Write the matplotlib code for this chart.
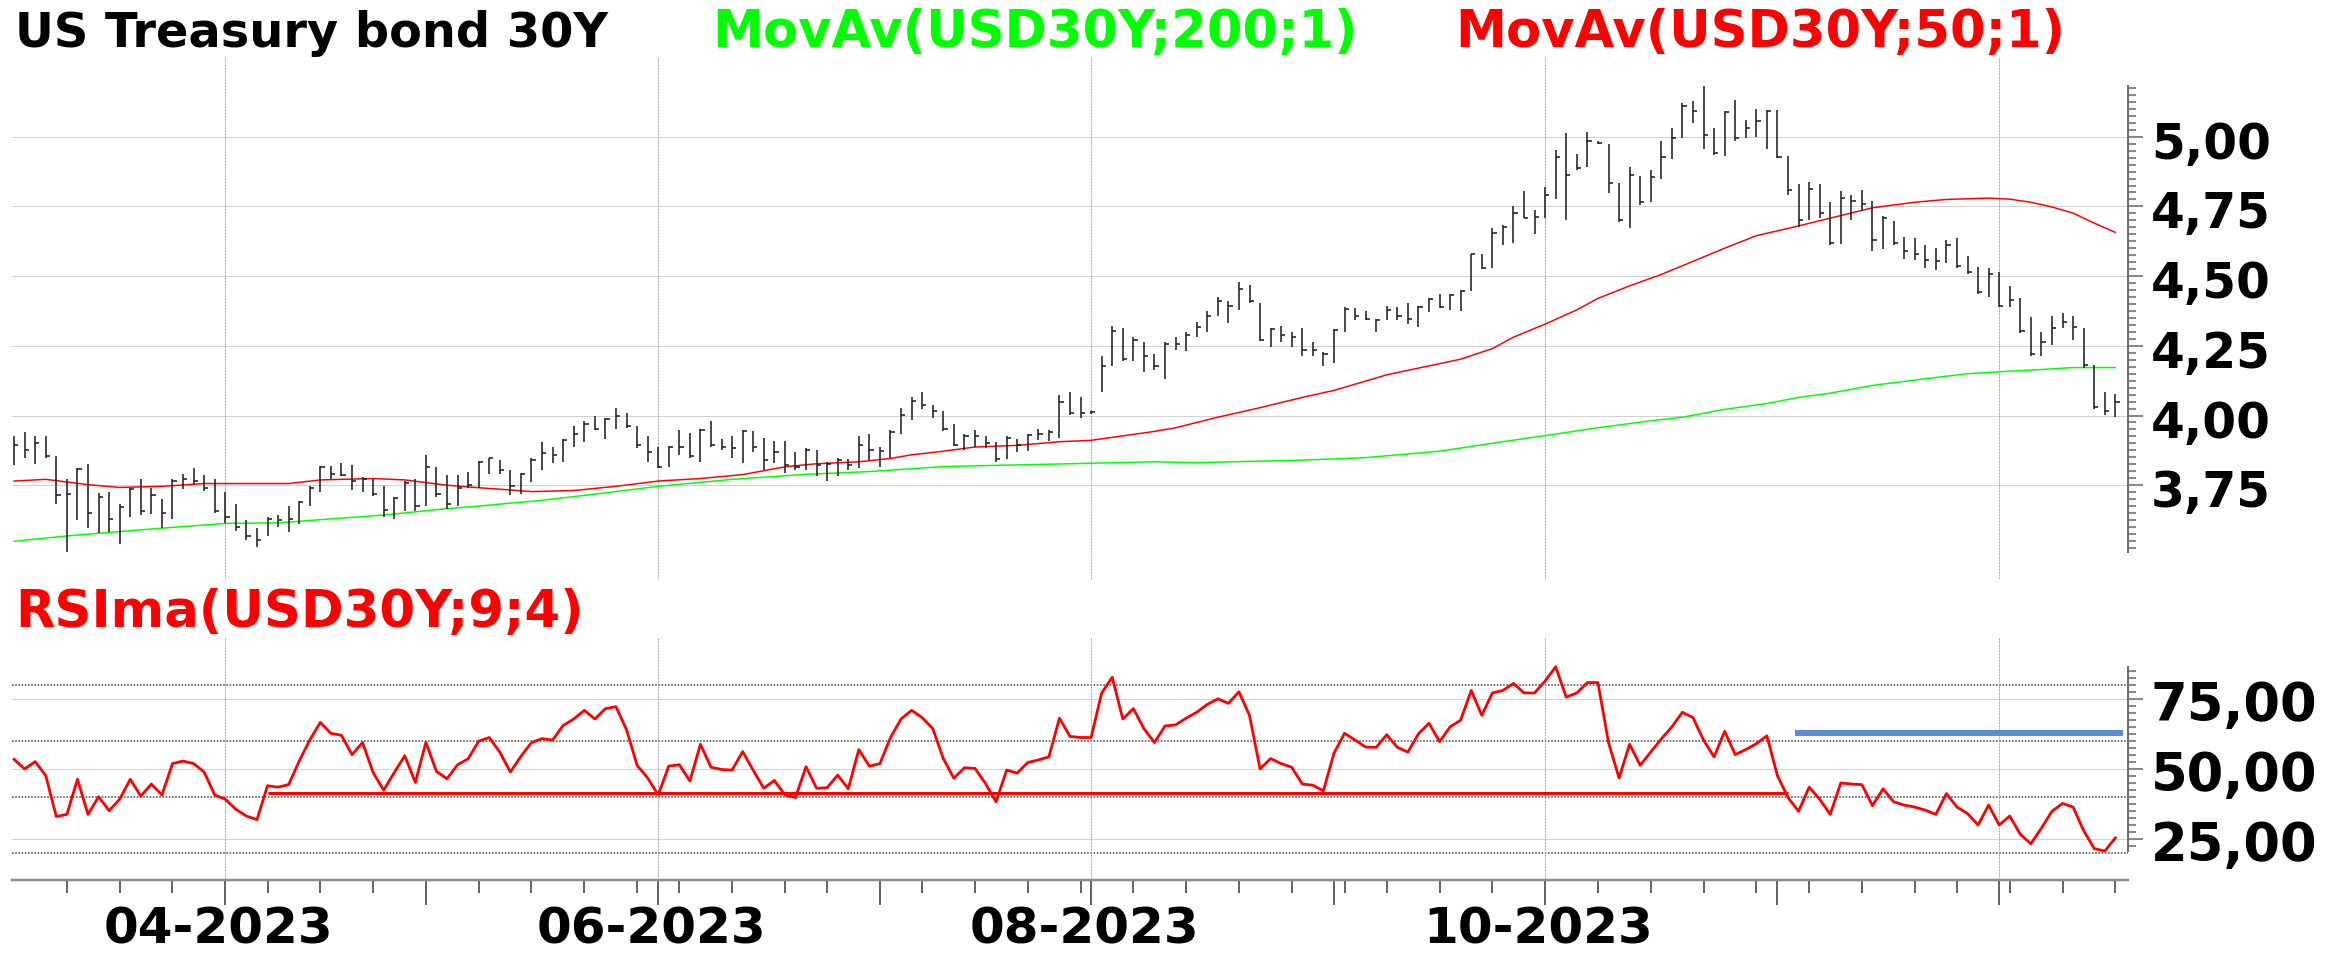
import numpy as np
import pandas as pd
import matplotlib
matplotlib.use("Agg")
import matplotlib.pyplot as plt
from matplotlib.ticker import FixedLocator, NullFormatter

plt.rcParams['font.family'] = ['DejaVu Sans']
plt.rcParams['font.weight'] = 'bold'

# trading days shown (weekdays, US bond market holidays removed)
holidays = ["2023-04-07", "2023-05-29", "2023-06-19", "2023-07-04",
            "2023-09-04", "2023-11-23"]
dates = pd.bdate_range("2023-03-06", "2023-12-18")
dates = dates[~dates.isin(pd.to_datetime(holidays))]

high = [3.928, 3.940, 3.925, 3.925, 3.855, 3.774, 3.812, 3.827, 3.722, 3.727,
        3.684, 3.741, 3.774, 3.741, 3.699, 3.774, 3.789, 3.812, 3.788, 3.771,
        3.727, 3.684, 3.624, 3.596, 3.637, 3.643, 3.675, 3.694, 3.746, 3.819,
        3.819, 3.831, 3.821, 3.778, 3.774, 3.746, 3.709, 3.765, 3.771, 3.857,
        3.816, 3.788, 3.788, 3.799, 3.838, 3.849, 3.840, 3.803, 3.793, 3.846,
        3.906, 3.887, 3.915, 3.962, 3.981, 4.000, 3.990, 4.028, 4.009, 3.962,
        3.928, 3.887, 3.891, 3.947, 3.938, 3.953, 3.981, 3.915, 3.928, 3.947,
        3.943, 3.919, 3.909, 3.909, 3.868, 3.883, 3.877, 3.834, 3.849, 3.844,
        3.928, 3.934, 3.887, 3.947, 4.028, 4.065, 4.084, 4.037, 4.018, 3.971,
        3.934, 3.947, 3.928, 3.906, 3.925, 3.915, 3.934, 3.953, 3.947, 4.075,
        4.084, 4.065, 4.015, 4.215, 4.322, 4.315, 4.281, 4.262, 4.221, 4.262,
        4.281, 4.300, 4.337, 4.375, 4.425, 4.409, 4.479, 4.469, 4.403, 4.313,
        4.322, 4.300, 4.313, 4.262, 4.229, 4.309, 4.388, 4.385, 4.375, 4.347,
        4.394, 4.388, 4.403, 4.394, 4.422, 4.435, 4.437, 4.450, 4.581, 4.581,
        4.671, 4.685, 4.750, 4.807, 4.737, 4.820, 4.951, 5.013, 4.938, 5.017,
        4.985, 4.975, 4.835, 4.891, 4.859, 4.882, 4.985, 5.032, 5.120, 5.129,
        5.182, 5.032, 5.094, 5.131, 5.060, 5.101, 5.097, 5.097, 4.932, 4.831,
        4.838, 4.831, 4.765, 4.807, 4.792, 4.810, 4.769, 4.716, 4.698, 4.641,
        4.638, 4.610, 4.600, 4.628, 4.638, 4.572, 4.534, 4.529, 4.516, 4.465,
        4.422, 4.352, 4.300, 4.356, 4.366, 4.356, 4.315, 4.181, 4.084, 4.078]
low = [3.821, 3.849, 3.825, 3.849, 3.681, 3.512, 3.624, 3.596, 3.577, 3.581,
       3.540, 3.637, 3.643, 3.647, 3.596, 3.630, 3.737, 3.756, 3.731, 3.652,
       3.615, 3.587, 3.553, 3.527, 3.568, 3.600, 3.583, 3.611, 3.677, 3.727,
       3.774, 3.784, 3.733, 3.724, 3.712, 3.637, 3.628, 3.658, 3.658, 3.677,
       3.709, 3.666, 3.677, 3.741, 3.741, 3.789, 3.789, 3.714, 3.718, 3.763,
       3.803, 3.831, 3.834, 3.887, 3.906, 3.947, 3.915, 3.953, 3.956, 3.883,
       3.834, 3.812, 3.816, 3.859, 3.849, 3.834, 3.887, 3.877, 3.849, 3.831,
       3.868, 3.803, 3.831, 3.793, 3.803, 3.806, 3.784, 3.765, 3.784, 3.803,
       3.812, 3.840, 3.816, 3.849, 3.934, 3.985, 4.022, 3.990, 3.943, 3.891,
       3.877, 3.887, 3.883, 3.834, 3.844, 3.868, 3.872, 3.911, 3.909, 3.921,
       4.003, 3.990, 4.005, 4.084, 4.178, 4.196, 4.196, 4.155, 4.163, 4.131,
       4.234, 4.232, 4.281, 4.300, 4.356, 4.333, 4.379, 4.403, 4.268, 4.244,
       4.262, 4.247, 4.212, 4.215, 4.178, 4.187, 4.300, 4.341, 4.343, 4.300,
       4.341, 4.343, 4.328, 4.319, 4.371, 4.384, 4.379, 4.375, 4.446, 4.525,
       4.529, 4.610, 4.619, 4.709, 4.651, 4.707, 4.778, 4.703, 4.882, 4.891,
       4.975, 4.797, 4.695, 4.672, 4.754, 4.765, 4.850, 4.919, 4.994, 5.051,
       4.957, 4.934, 4.932, 4.985, 4.994, 4.998, 4.957, 4.925, 4.792, 4.675,
       4.703, 4.709, 4.613, 4.615, 4.703, 4.732, 4.591, 4.596, 4.610, 4.563,
       4.559, 4.529, 4.521, 4.548, 4.529, 4.506, 4.437, 4.426, 4.388, 4.388,
       4.296, 4.215, 4.215, 4.253, 4.315, 4.272, 4.172, 4.022, 4.003, 3.994]
close = [3.896, 3.877, 3.900, 3.855, 3.714, 3.718, 3.808, 3.652, 3.709, 3.628,
         3.671, 3.737, 3.658, 3.714, 3.649, 3.765, 3.774, 3.765, 3.741, 3.658,
         3.637, 3.600, 3.568, 3.553, 3.628, 3.624, 3.630, 3.690, 3.741, 3.816,
         3.789, 3.788, 3.765, 3.774, 3.718, 3.662, 3.703, 3.759, 3.677, 3.816,
         3.718, 3.684, 3.741, 3.752, 3.834, 3.846, 3.803, 3.746, 3.789, 3.840,
         3.864, 3.859, 3.911, 3.934, 3.968, 3.953, 3.987, 4.000, 3.962, 3.896,
         3.868, 3.817, 3.887, 3.887, 3.855, 3.947, 3.893, 3.887, 3.883, 3.943,
         3.887, 3.840, 3.868, 3.821, 3.816, 3.877, 3.821, 3.827, 3.840, 3.821,
         3.896, 3.877, 3.872, 3.940, 4.003, 4.052, 4.037, 4.015, 3.953, 3.896,
         3.928, 3.925, 3.902, 3.844, 3.921, 3.896, 3.930, 3.934, 3.940, 4.047,
         4.009, 4.009, 4.011, 4.178, 4.303, 4.202, 4.272, 4.215, 4.178, 4.258,
         4.258, 4.290, 4.318, 4.356, 4.409, 4.394, 4.454, 4.409, 4.272, 4.309,
         4.290, 4.281, 4.234, 4.234, 4.221, 4.305, 4.381, 4.356, 4.347, 4.343,
         4.379, 4.356, 4.347, 4.390, 4.418, 4.390, 4.431, 4.446, 4.578, 4.529,
         4.656, 4.675, 4.728, 4.709, 4.713, 4.792, 4.929, 4.863, 4.887, 4.985,
         4.979, 4.835, 4.700, 4.863, 4.765, 4.854, 4.929, 4.994, 5.111, 5.092,
         5.008, 4.942, 5.088, 4.994, 5.032, 5.056, 5.094, 4.929, 4.810, 4.703,
         4.812, 4.728, 4.619, 4.779, 4.769, 4.760, 4.628, 4.707, 4.619, 4.591,
         4.578, 4.559, 4.553, 4.610, 4.538, 4.516, 4.444, 4.506, 4.394, 4.416,
         4.303, 4.221, 4.262, 4.313, 4.337, 4.318, 4.181, 4.031, 4.015, 4.047]

rsi = [53.5, 50.1, 52.7, 47.7, 33.1, 33.9, 46.4, 33.9, 40.2, 35.2,
       39.3, 46.4, 40.4, 44.7, 40.8, 52.0, 52.9, 52.0, 49.0, 40.8,
       39.3, 35.7, 33.3, 32.0, 44.1, 43.6, 44.5, 52.9, 60.4, 66.7,
       62.8, 62.1, 55.2, 59.5, 48.8, 42.5, 48.8, 54.8, 45.3, 59.6,
       49.2, 46.6, 51.6, 53.7, 60.0, 61.3, 56.1, 49.0, 54.6, 59.5,
       60.9, 60.4, 65.6, 67.9, 71.0, 67.9, 71.6, 72.3, 64.1, 51.4,
       46.9, 40.8, 51.1, 51.6, 45.8, 58.9, 50.7, 49.9, 49.7, 56.3,
       49.6, 43.2, 46.0, 40.8, 39.9, 50.9, 43.2, 43.4, 47.9, 43.0,
       57.0, 51.1, 52.0, 61.3, 67.9, 71.0, 68.4, 64.5, 53.8, 46.8,
       50.5, 50.3, 44.9, 38.4, 49.7, 48.6, 52.4, 53.3, 54.4, 68.2,
       61.7, 61.3, 61.3, 77.2, 82.8, 67.9, 71.6, 64.5, 59.5, 65.4,
       65.8, 68.2, 70.3, 73.1, 75.1, 73.5, 77.6, 69.2, 50.1, 53.8,
       52.0, 50.7, 44.7, 44.3, 42.3, 55.7, 62.8, 60.4, 57.9, 57.8,
       62.3, 57.8, 56.1, 62.6, 66.4, 59.8, 65.1, 67.5, 78.1, 69.2,
       77.2, 78.1, 80.6, 77.2, 77.2, 81.5, 86.5, 75.7, 77.2, 80.9,
       80.9, 59.5, 46.9, 58.9, 51.4, 56.1, 60.8, 65.1, 70.3, 68.4,
       60.4, 54.4, 63.5, 55.2, 57.0, 59.1, 61.9, 47.7, 39.9, 35.0,
       43.6, 39.3, 33.9, 45.1, 44.7, 44.5, 37.0, 43.0, 38.4, 37.2,
       36.5, 35.4, 33.9, 41.3, 36.5, 34.2, 30.1, 37.2, 30.1, 33.3,
       26.8, 23.4, 29.0, 35.0, 37.8, 36.5, 28.1, 21.7, 20.8, 25.5]

# moving averages, read at a subset of bars (bar number, value)
ma50_bar = [0, 3, 7, 10, 14, 18, 26, 29, 34, 37, 41, 44, 47, 49, 53, 57, 61,
            65, 69, 73, 76, 80, 83, 85, 88, 91, 95, 99, 102, 108, 110, 114,
            118, 122, 125, 130, 137, 140, 142, 145, 148, 150, 153, 156, 159,
            162, 165, 169, 172, 176, 180, 183, 187, 189, 191, 193, 195, 197, 199]
ma50 = [3.765, 3.771, 3.752, 3.742, 3.746, 3.756, 3.756, 3.769, 3.774, 3.769,
        3.750, 3.741, 3.733, 3.727, 3.731, 3.746, 3.765, 3.774, 3.788, 3.816,
        3.827, 3.834, 3.846, 3.859, 3.872, 3.887, 3.893, 3.906, 3.911, 3.943,
        3.956, 3.994, 4.028, 4.065, 4.090, 4.146, 4.202, 4.240, 4.281, 4.328,
        4.379, 4.420, 4.465, 4.506, 4.553, 4.600, 4.645, 4.680, 4.708, 4.745,
        4.765, 4.775, 4.780, 4.776, 4.765, 4.748, 4.726, 4.690, 4.657]
ma200_bar = [0, 5, 12, 20, 25, 31, 35, 41, 44, 50, 55, 61, 68, 75, 81, 88, 100,
             108, 112, 122, 128, 135, 141, 145, 150, 155, 158, 162, 166, 169,
             172, 176, 180, 185, 188, 192, 195, 199]
ma200 = [3.549, 3.568, 3.590, 3.613, 3.615, 3.632, 3.643, 3.666, 3.675, 3.696,
         3.718, 3.746, 3.771, 3.789, 3.799, 3.817, 3.827, 3.834, 3.831, 3.840,
         3.849, 3.872, 3.906, 3.928, 3.956, 3.981, 3.994, 4.022, 4.043, 4.065,
         4.080, 4.108, 4.127, 4.150, 4.157, 4.165, 4.172, 4.172]

price_ticks = [3.75, 4.00, 4.25, 4.50, 4.75, 5.00]
rsi_ticks = [25, 50, 75]
rsi_levels = [20, 40, 60, 80]
support = (41.4, "2023-04-10", "2023-11-02")
resistance = (62.8, "2023-11-03", "2023-12-18")

W, H = 2335, 956
PX = 0.72  # points per pixel at dpi 100
GREEN = '#00ff00'
RED = '#ff0000'
GRID = '#a6a6a6'

n = len(dates)
x = np.arange(n)
week_starts = [i for i in range(1, n) if dates[i].weekday() < dates[i - 1].weekday()]
month_starts = [i for i in range(1, n) if dates[i].month != dates[i - 1].month]
grid_months = [i for i in month_starts if dates[i].month % 2 == 0]


def bar_of(d):
    return dates.get_loc(pd.Timestamp(d))


def fmt(v):
    return f"{v:.2f}".replace('.', ',')


fig = plt.figure(figsize=(W / 100, H / 100), dpi=100, facecolor='w')
left, right = 12 / W, 2128 / W
ax = fig.add_axes([left, 1 - 579 / H, right - left, (579 - 57) / H])
ax2 = fig.add_axes([left, 1 - 880 / H, right - left, (880 - 637) / H])

# ---- price panel
for v in price_ticks:
    ax.axhline(v, color=GRID, lw=1 * PX, ls=(0, (1, 1)), zorder=0)
for i in grid_months:
    ax.axvline(i, color=GRID, lw=1 * PX, ls=(0, (2, 1)), zorder=0)

ax.vlines(x, low, high, color='#222222', lw=1.6 * PX, zorder=3)
ax.hlines(close, x, x + 0.4, color='#222222', lw=1.6 * PX, zorder=3)
ax.plot(ma200_bar, ma200, color=GREEN, lw=1.5 * PX, zorder=2)
ax.plot(ma50_bar, ma50, color=RED, lw=1.5 * PX, zorder=2)

ax.set_xlim(-0.2, n + 0.2)
ax.set_ylim(3.4136, 5.286)

# ---- RSI panel
for v in rsi_ticks:
    ax2.axhline(v, color=GRID, lw=1 * PX, ls=(0, (1, 1)), zorder=0)
for v in rsi_levels:
    ax2.axhline(v, color='#555555', lw=1.6 * PX, ls=(0, (1, 1)), zorder=0)
for i in grid_months:
    ax2.axvline(i, color=GRID, lw=1 * PX, ls=(0, (2, 1)), zorder=0)

ax2.hlines(support[0], bar_of(support[1]), bar_of(support[2]),
           color=RED, lw=3 * PX, zorder=3)
ax2.hlines(resistance[0], bar_of(resistance[1]) - 0.3, bar_of(resistance[2]) + 0.7,
           color='#5b8dd3', lw=6 * PX, zorder=3)
ax2.plot(x, rsi, color=RED, lw=2.8 * PX, zorder=4)

ax2.set_xlim(-0.2, n + 0.2)
ax2.set_ylim(10.49, 97.15)

# ---- axes styling
for a, lo, hi, major, step, fs in ((ax, min(low), max(high), price_ticks, 0.025, 35),
                                   (ax2, min(rsi), max(rsi), rsi_ticks, 2.5, 38)):
    for s in ('top', 'left', 'bottom'):
        a.spines[s].set_visible(False)
    a.spines['right'].set_bounds(lo, hi)
    a.spines['right'].set_color('#6e6e6e')
    a.spines['right'].set_linewidth(2 * PX)
    a.yaxis.tick_right()
    a.yaxis.set_major_locator(FixedLocator(major))
    minor = np.arange(np.ceil(lo / step) * step, hi, step)
    a.yaxis.set_minor_locator(FixedLocator(minor))
    a.yaxis.set_major_formatter(NullFormatter())
    a.tick_params(axis='y', which='major', length=15 * PX, width=1.6 * PX,
                  color='#6e6e6e', right=True, left=False)
    a.tick_params(axis='y', which='minor', length=7.5 * PX, width=1.6 * PX,
                  color='#6e6e6e', right=True, left=False)
    for v in major:
        a.annotate(fmt(v), xy=(1, v), xycoords=('axes fraction', 'data'),
                   xytext=(23 * PX, -22 * PX), textcoords='offset points',
                   ha='left', va='baseline', fontsize=fs, fontweight='bold',
                   color='black', annotation_clip=False)

ax.set_xticks([])
ax2.spines['bottom'].set_visible(True)
ax2.spines['bottom'].set_color('#8a8a8a')
ax2.spines['bottom'].set_linewidth(2.5 * PX)
ax2.xaxis.set_major_locator(FixedLocator(month_starts))
ax2.xaxis.set_minor_locator(FixedLocator(week_starts))
ax2.xaxis.set_major_formatter(NullFormatter())
ax2.tick_params(axis='x', which='major', length=25 * PX, width=1.5 * PX,
                color='#333333', direction='out')
ax2.tick_params(axis='x', which='minor', length=13 * PX, width=1.5 * PX,
                color='#333333', direction='out')

for i in grid_months:
    if n - i < 20:
        continue
    ax2.annotate(dates[i].strftime('%m-%Y'), xy=(i, 0),
                 xycoords=('data', 'axes fraction'),
                 xytext=(-7 * PX, -64 * PX), textcoords='offset points',
                 ha='center', va='baseline', fontsize=36, fontweight='bold',
                 color='black', annotation_clip=False)

# ---- titles
fig.text(15 / W, 1 - 47 / H, 'US Treasury bond 30Y', fontsize=34.5,
         fontweight='bold', color='black', va='baseline', ha='left')
fig.text(712 / W, 1 - 47 / H, 'MovAv(USD30Y;200;1)', fontsize=36.8,
         fontweight='bold', color=GREEN, va='baseline', ha='left')
fig.text(1455 / W, 1 - 47 / H, 'MovAv(USD30Y;50;1)', fontsize=36.8,
         fontweight='bold', color=RED, va='baseline', ha='left')
fig.text(15 / W, 1 - 627 / H, 'RSIma(USD30Y;9;4)', fontsize=37,
         fontweight='bold', color=RED, va='baseline', ha='left')

fig.savefig('out.png', dpi=100, facecolor='w')
